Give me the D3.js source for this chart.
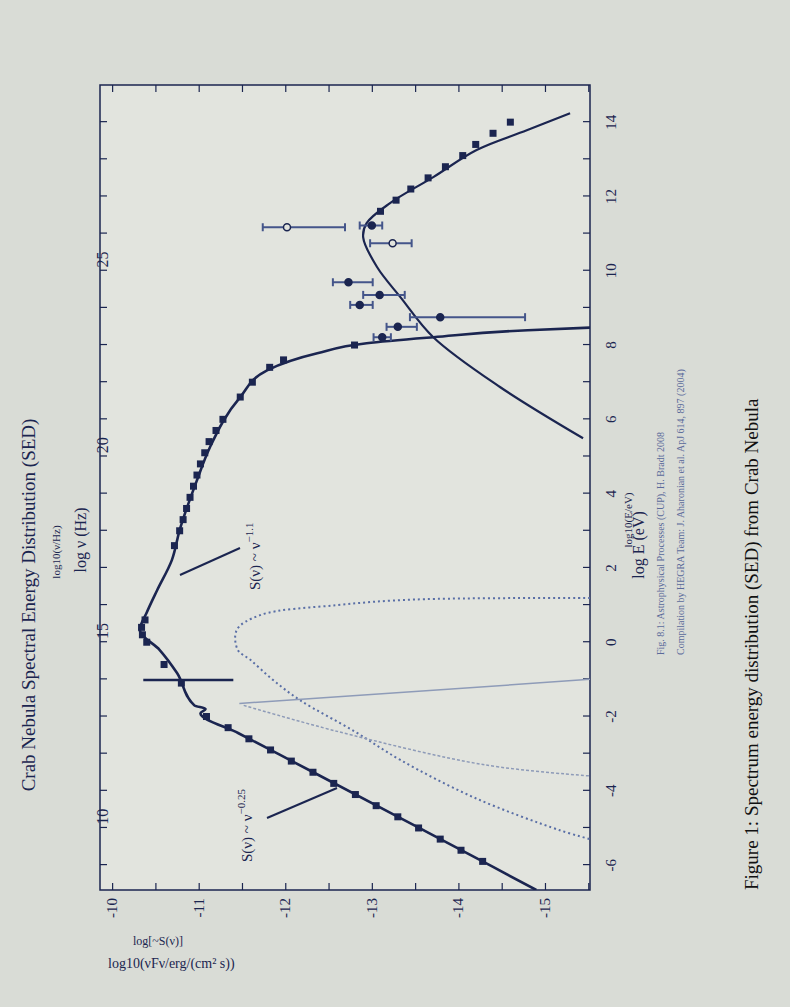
<!DOCTYPE html>
<html><head><meta charset="utf-8">
<script src="https://cdn.jsdelivr.net/npm/d3@7"></script>
<style>body{margin:0;background:#d9dcd6;}svg{display:block}</style>
</head><body>
<script>
// Synchrotron model curve (logE [eV], log nuFnu)
const syncE = [-6.67,-6.05,-4.98,-3.52,-2.45,-1.91,-1.80,-1.70,-0.83,-0.21,0.33,0.80,1.40,2.21,3.02,4.36,5.25,6.6,7.32,7.78,8.05,8.21,8.40,8.47];
const syncF = [-14.9,-14.4,-13.53,-12.34,-11.46,-11.02,-11.08,-10.95,-10.75,-10.55,-10.32,-10.40,-10.52,-10.69,-10.78,-10.98,-11.13,-11.48,-11.79,-12.37,-12.94,-13.71,-14.8,-15.52];
// Inverse Compton model curve
const icE = [5.49,6.87,8.21,9.29,10.1,10.9,11.28,11.82,12.52,13.25,13.78,14.24];
const icF = [-15.44,-14.48,-13.71,-13.33,-13.06,-12.9,-12.94,-13.21,-13.71,-14.21,-14.79,-15.29];
// Observed points along synchrotron and IC spectrum
const obsE = [-5.9,-5.6,-5.3,-5.0,-4.7,-4.4,-4.1,-3.8,-3.5,-3.2,-2.9,-2.6,-2.3,-2.0,-1.1,-0.6,0.0,0.2,0.4,0.6,2.6,3.0,3.3,3.6,3.9,4.2,4.5,4.8,5.1,5.4,5.7,6.0,6.6,7.0,7.4,7.6,8.0,11.6,11.9,12.2,12.5,12.8,13.1,13.4,13.7,14.0];
const obsF = [-14.28,-14.03,-13.79,-13.54,-13.30,-13.05,-12.81,-12.56,-12.32,-12.07,-11.83,-11.58,-11.34,-11.09,-10.8,-10.6,-10.4,-10.35,-10.34,-10.38,-10.72,-10.78,-10.82,-10.86,-10.9,-10.94,-10.98,-11.02,-11.07,-11.12,-11.2,-11.28,-11.48,-11.62,-11.82,-11.98,-12.8,-13.1,-13.28,-13.45,-13.65,-13.85,-14.05,-14.2,-14.4,-14.6];
// Error-bar points: logE, flux, low, high, open marker
const errE = [11.17,11.22,10.74,9.69,9.35,9.08,8.75,8.49,8.21];
const errF = [-12.02,-13.0,-13.24,-12.73,-13.09,-12.86,-13.79,-13.30,-13.12];
const errLo = [-12.69,-13.12,-13.46,-13.01,-13.38,-13.01,-14.77,-13.52,-13.22];
const errHi = [-11.74,-12.86,-12.98,-12.55,-12.9,-12.75,-13.44,-13.17,-13.02];
const errOpen = [1,0,1,0,0,0,0,0,0];
// Model component curves (dotted)
const dotE = [1.19,1.15,1.0,0.73,0.33,-0.2,-0.48,-1.0,-1.56,-2.4,-3.17,-4.2,-5.06,-5.3];
const dotF = [-15.52,-13.5,-12.6,-11.71,-11.44,-11.45,-11.6,-11.85,-12.17,-12.8,-13.33,-14.2,-15.17,-15.52];
const lineAE = [-1.65,-1.0], lineAF = [-11.47,-15.52];
const lineBE = [-1.70,-2.4,-3.3,-3.6], lineBF = [-11.52,-12.6,-14.3,-15.52];
const spikeE = [-1.02,-1.02], spikeF = [-10.36,-11.40];
const xTicks = [-6,-4,-2,0,2,4,6,8,10,12,14];
const yTicks = [-10,-11,-12,-13,-14,-15];
const nuTicks = [10,15,20,25];

const W=790,H=1007, PW=805, PH=490;
const svg=d3.select("body").append("svg").attr("width",W).attr("height",H);
svg.append("rect").attr("width",W).attr("height",H).attr("fill","#d9dcd6");
const g=svg.append("g").attr("transform","translate(100,890) rotate(-90)");
const x=d3.scaleLinear().domain([-6.67,15.0]).range([0,PW]);
const y=d3.scaleLinear().domain([-9.86,-15.52]).range([0,PH]);
const ink="#1b2550", light="#8e9bb8", dotc="#5a6fa6";
const font="'Liberation Serif', 'DejaVu Serif', serif";

g.append("rect").attr("width",PW).attr("height",PH).attr("fill","#e2e4de").attr("stroke",ink).attr("stroke-width",1.5);
g.append("g").attr("transform",`translate(0,${PH})`).call(d3.axisBottom(x).tickValues(d3.range(-6,15,1)).tickSize(-7).tickFormat(""));
g.append("g").call(d3.axisTop(x).tickValues(d3.range(-6,15,1)).tickSize(-7).tickFormat(""));
g.append("g").call(d3.axisLeft(y).tickValues(d3.range(-10,-15.6,-0.5)).tickSize(-7).tickFormat(""));
g.append("g").attr("transform",`translate(${PW},0)`).call(d3.axisRight(y).tickValues(d3.range(-10,-15.6,-0.5)).tickSize(-7).tickFormat(""));
g.selectAll(".domain").remove();
g.selectAll(".tick line").attr("stroke",ink).attr("stroke-width",1.2);

const T=(sel)=>sel.attr("font-family",font).attr("fill",ink);
xTicks.forEach(t=>T(g.append("text")).attr("x",x(t)).attr("y",PH+26).attr("text-anchor","middle").attr("font-size",15).text(t));
yTicks.forEach(t=>T(g.append("text")).attr("x",-8).attr("y",y(t)+5).attr("text-anchor","end").attr("font-size",15).text(t));
nuTicks.forEach(t=>T(g.append("text")).attr("x",x(t-14.7)).attr("y",8).attr("text-anchor","middle").attr("font-size",16).text(t));

const line=(E,F)=>d3.line().x((d,i)=>x(E[i])).y((d,i)=>y(F[i]))(E);
const curve=(E,F,c)=>d3.line().curve(c).x((d,i)=>x(E[i])).y((d,i)=>y(F[i]))(E);
g.append("clipPath").attr("id","c").append("rect").attr("width",PW).attr("height",PH);
const p=g.append("g").attr("clip-path","url(#c)");
p.append("path").attr("d",curve(dotE,dotF,d3.curveCatmullRom)).attr("fill","none").attr("stroke",dotc).attr("stroke-width",2).attr("stroke-dasharray","2,3");
p.append("path").attr("d",line(lineAE,lineAF)).attr("fill","none").attr("stroke",light).attr("stroke-width",1.5);
p.append("path").attr("d",curve(lineBE,lineBF,d3.curveCatmullRom)).attr("fill","none").attr("stroke",light).attr("stroke-width",1.5).attr("stroke-dasharray","3,2");
p.append("path").attr("d",curve(syncE,syncF,d3.curveMonotoneX)).attr("fill","none").attr("stroke",ink).attr("stroke-width",2.6);
p.append("path").attr("d",curve(icE,icF,d3.curveCatmullRom)).attr("fill","none").attr("stroke",ink).attr("stroke-width",2.2);
p.append("path").attr("d",line(spikeE,spikeF)).attr("stroke",ink).attr("stroke-width",2.5);
obsE.forEach((e,i)=>p.append("rect").attr("x",x(e)-3.5).attr("y",y(obsF[i])-3.5).attr("width",7).attr("height",7).attr("fill",ink));
errE.forEach((e,i)=>{
  p.append("line").attr("x1",x(e)).attr("x2",x(e)).attr("y1",y(errLo[i])).attr("y2",y(errHi[i])).attr("stroke","#44558a").attr("stroke-width",2);
  [errLo[i],errHi[i]].forEach(v=>p.append("line").attr("x1",x(e)-4).attr("x2",x(e)+4).attr("y1",y(v)).attr("y2",y(v)).attr("stroke","#44558a").attr("stroke-width",2));
  p.append("circle").attr("cx",x(e)).attr("cy",y(errF[i])).attr("r",3.5).attr("fill",errOpen[i]?"#e2e4de":ink).attr("stroke",ink).attr("stroke-width",1.5);
});
g.append("line").attr("x1",890-818).attr("y1",167).attr("x2",890-788).attr("y2",237).attr("stroke",ink).attr("stroke-width",2);
g.append("line").attr("x1",890-575).attr("y1",80).attr("x2",890-548).attr("y2",140).attr("stroke",ink).attr("stroke-width",2);
const a1=T(g.append("text")).attr("x",890-862).attr("y",152).attr("font-size",15);
a1.append("tspan").text("S(ν) ~ ν"); a1.append("tspan").attr("dy",-7).attr("font-size",11).text("−0.25");
const a2=T(g.append("text")).attr("x",890-590).attr("y",160).attr("font-size",15);
a2.append("tspan").text("S(ν) ~ ν"); a2.append("tspan").attr("dy",-7).attr("font-size",11).text("−1.1");
T(g.append("text")).attr("x",890-605).attr("y",-65).attr("text-anchor","middle").attr("font-size",19).text("Crab Nebula Spectral Energy Distribution (SED)");
T(g.append("text")).attr("x",890-540).attr("y",-14).attr("text-anchor","middle").attr("font-size",16).text("log ν (Hz)");
T(g.append("text")).attr("x",890-552).attr("y",-40).attr("text-anchor","middle").attr("font-size",11).text("log10(ν/Hz)");
T(g.append("text")).attr("x",890-545).attr("y",PH+54).attr("text-anchor","middle").attr("font-size",16).text("log E (eV)");
T(g.append("text")).attr("x",890-520).attr("y",PH+42).attr("text-anchor","middle").attr("font-size",11).text("log10(E/eV)");
T(g.append("text")).attr("x",890-655).attr("y",PH+74).attr("font-size",10).attr("fill","#5a6a9a").text("Fig. 8.1: Astrophysical Processes (CUP), H. Bradt 2008");
T(g.append("text")).attr("x",890-655).attr("y",PH+94).attr("font-size",10).attr("fill","#5a6a9a").text("Compilation by HEGRA Team: J. Aharonian et al. ApJ 614, 897 (2004)");
T(g.append("text")).attr("x",890-890).attr("y",PH+168).attr("font-size",19).attr("fill","#111").text("Figure 1: Spectrum energy distribution (SED) from Crab Nebula");
T(svg.append("text")).attr("x",133).attr("y",945).attr("font-size",12).text("log[~S(ν)]");
T(svg.append("text")).attr("x",108).attr("y",968).attr("font-size",14).text("log10(νFν/erg/(cm² s))");
</script>
</body></html>
